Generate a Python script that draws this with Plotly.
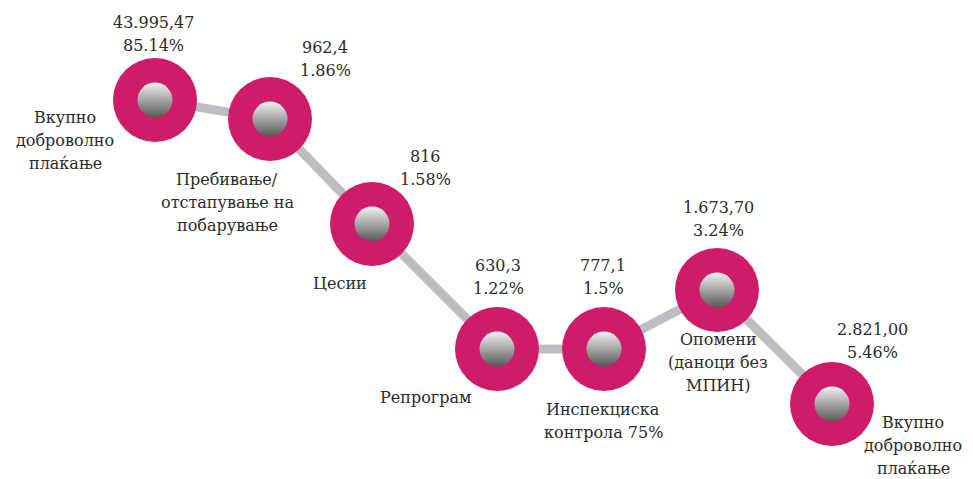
import plotly.graph_objects as go

# ---- data ----
categories = [
    ["Вкупно", "доброволно", "плаќање"],
    ["Пребивање/", "отстапување на", "побарување"],
    ["Цесии"],
    ["Репрограм"],
    ["Инспекциска", "контрола 75%"],
    ["Опомени", "(даноци без", "МПИН)"],
    ["Вкупно", "доброволно", "плаќање"],
]
amounts = ["43.995,47", "962,4", "816", "630,3", "777,1", "1.673,70", "2.821,00"]
shares = ["85.14%", "1.86%", "1.58%", "1.22%", "1.5%", "3.24%", "5.46%"]

# ---- layout (diagram positions, page pixels) ----
node_x = [155, 270, 372, 497, 604, 717, 832]
node_y = [100, 119, 224, 349, 349, 290, 404]
value_pos = [(153, 34), (325, 59), (425, 168), (498, 277), (603, 277), (718, 219), (872, 341)]
label_pos = [(65, 140), (227, 202), (340, 283), (425, 397), (603, 421), (718, 362), (913, 445)]
LINE_H = 23

W, H = 973, 479
OFF = 8  # default page body margin
MAGENTA = "#CF1C6A"
GRAY_LINE = "#BDBEC1"
TEXT = "#2B2B2B"
FONT = "DejaVu Serif"

fig = go.Figure()
fig.add_trace(go.Scatter(x=node_x, y=node_y, mode="lines",
                         line=dict(color=GRAY_LINE, width=9), hoverinfo="skip"))
fig.add_trace(go.Scatter(x=node_x, y=node_y, mode="markers",
                         marker=dict(size=84, color=MAGENTA, line=dict(width=0)),
                         hoverinfo="skip"))
fig.add_trace(go.Scatter(x=node_x, y=node_y, mode="markers",
                         marker=dict(size=35, color="#F2F2F2",
                                     gradient=dict(type="vertical", color="#585858"),
                                     line=dict(width=0)),
                         hoverinfo="skip"))


def add_block(cx, cy, lines):
    n = len(lines)
    for i, t in enumerate(lines):
        fig.add_annotation(x=cx, y=cy + (i - (n - 1) / 2) * LINE_H, text=t,
                           showarrow=False, xanchor="center", yanchor="middle",
                           font=dict(family=FONT, size=16, color=TEXT))


for (vx, vy), a, s in zip(value_pos, amounts, shares):
    add_block(vx, vy, [a, s])
for (lx, ly), c in zip(label_pos, categories):
    add_block(lx, ly, c)

fig.update_layout(
    width=W - OFF, height=H - OFF, margin=dict(l=0, r=0, t=0, b=0),
    paper_bgcolor="white", plot_bgcolor="white", showlegend=False,
    xaxis=dict(range=[OFF, W], visible=False, fixedrange=True),
    yaxis=dict(range=[H, OFF], visible=False, fixedrange=True),
)
fig.write_html("out.html", config={"displayModeBar": False})
